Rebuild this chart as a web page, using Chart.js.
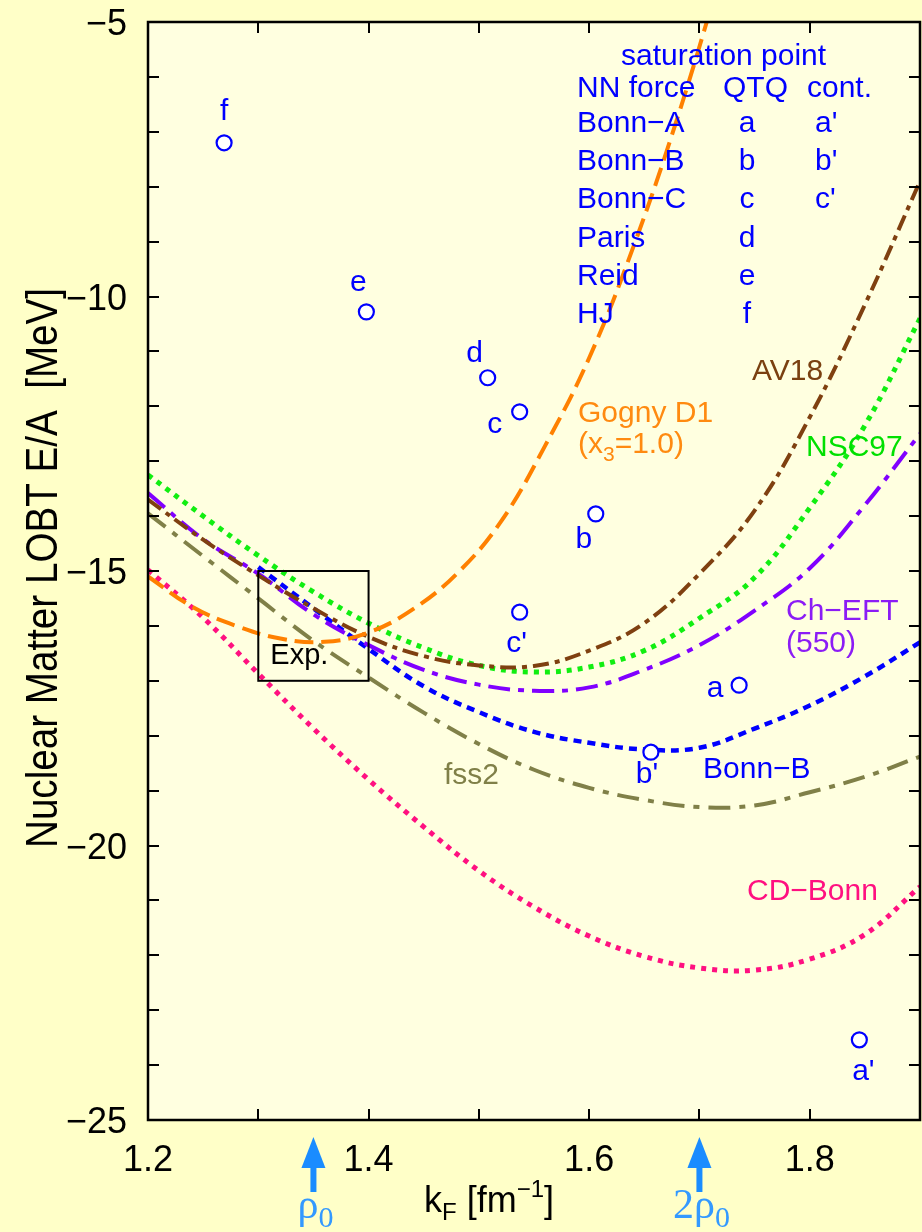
<!DOCTYPE html>
<html><head><meta charset="utf-8">
<script src="https://cdn.jsdelivr.net/npm/chart.js@4/dist/chart.umd.min.js"></script>
<style>html,body{margin:0;padding:0;background:#FFFFC8;}canvas{display:block;}</style>
</head><body>
<canvas id="c" width="922" height="1232"></canvas>
<script>
// ---- data ----
const kF = [1.20,1.25,1.30,1.35,1.40,1.45,1.50,1.55,1.60,1.65,1.70,1.75,1.80,1.85,1.90];
const av18  = [-13.70,-14.43,-15.08,-15.68,-16.20,-16.55,-16.72,-16.73,-16.45,-15.95,-15.05,-13.90,-12.20,-10.15,-7.90];
const nsc97 = [-13.25,-14.00,-14.72,-15.38,-15.95,-16.40,-16.72,-16.84,-16.75,-16.45,-15.86,-15.12,-13.85,-12.35,-10.40];
const chEFT = [-13.58,-14.42,-15.05,-15.79,-16.35,-16.80,-17.07,-17.18,-17.12,-16.80,-16.35,-15.72,-14.95,-13.80,-12.50];
const fss2  = [-13.95,-14.73,-15.50,-16.27,-16.94,-17.58,-18.15,-18.62,-18.95,-19.17,-19.30,-19.27,-19.03,-18.75,-18.38];
const cdBonn= [-14.98,-15.85,-16.87,-17.87,-18.80,-19.66,-20.46,-21.12,-21.65,-22.02,-22.23,-22.27,-22.07,-21.62,-20.75];
const bonnBK = [1.30,1.35,1.40,1.45,1.50,1.55,1.60,1.65,1.70,1.75,1.80,1.85,1.90];
const bonnB  = [-14.93,-15.68,-16.42,-17.10,-17.57,-17.93,-18.13,-18.25,-18.22,-17.87,-17.45,-16.92,-16.30];
const gognyK = [1.20,1.24,1.28,1.32,1.36,1.40,1.44,1.48,1.52,1.56,1.60,1.64,1.68,1.72];
const gognyE = [-15.10,-15.65,-16.00,-16.23,-16.29,-16.12,-15.70,-15.05,-14.10,-12.72,-11.12,-9.10,-6.75,-4.10];
const qtqNames = ['a','b','c','d','e','f'];
const qtqK = [1.736,1.606,1.537,1.508,1.398,1.269];
const qtqE = [-17.08,-13.96,-12.10,-11.48,-10.28,-7.20];
const contNames = ["a'","b'","c'"];
const contK = [1.845,1.656,1.537];
const contE = [-23.54,-18.30,-15.75];
const expK = [1.30,1.40];
const expE = [-15.0,-17.0];
const rhoK = [1.35,1.70];
const rhoLabels = ['ρ','2ρ'];
const xTickLabels = [1.2,1.4,1.6,1.8];
const yTickLabels = [-5,-10,-15,-20,-25];
const tableRows = [['Bonn−A','a',"a'"],['Bonn−B','b',"b'"],['Bonn−C','c',"c'"],['Paris','d',''],['Reid','e',''],['HJ','f','']];

// ---- styling (label offsets in px relative to the point) ----
const qtqOff = [[-24,12],[-12,34],[-25,21],[-13,-16],[-8,-21],[0,-23]];
const contOff = [[4,40],[-4,31],[-3,40]];

const SANS = '"Liberation Sans", Arial, Helvetica, sans-serif';
const SERIF = '"Liberation Serif", "DejaVu Serif", serif';

function pts(xs, ys){ return xs.map((x,i)=>({x:x,y:ys[i]})); }
function curve(label, xs, ys, color, dash, w){
  return {type:'line', label:label, data:pts(xs,ys), borderColor:color, borderWidth:w||4,
    borderDash:dash, borderCapStyle:'butt', pointRadius:0, tension:0.4, fill:false};
}

function txt(ctx, s, x, y, color, size, align, family){
  ctx.save();
  ctx.font = size + 'px ' + (family||SANS);
  ctx.fillStyle = color; ctx.textAlign = align||'left'; ctx.textBaseline = 'alphabetic';
  ctx.fillText(s, x, y);
  const w = ctx.measureText(s).width;
  ctx.restore();
  return w;
}

const decor = {
  id:'decor',
  beforeDraw(chart){
    const {ctx, chartArea:a} = chart;
    ctx.save();
    ctx.fillStyle = '#FFFFC8'; ctx.fillRect(0,0,chart.width,chart.height);
    ctx.fillStyle = '#FFFFE0'; ctx.fillRect(a.left,a.top,a.right-a.left,a.bottom-a.top);
    ctx.restore();
  },
  afterDatasetsDraw(chart){
    const {ctx, chartArea:a, scales:{x,y}} = chart;
    ctx.save();
    // ticks inside
    ctx.strokeStyle = '#000'; ctx.lineWidth = 2;
    ctx.beginPath();
    x.ticks.forEach(t=>{ const px = Math.round(x.getPixelForValue(t.value));
      if (px<=a.left+2 || px>=a.right-2) return;
      ctx.moveTo(px,a.bottom); ctx.lineTo(px,a.bottom-11);
      ctx.moveTo(px,a.top); ctx.lineTo(px,a.top+11); });
    y.ticks.forEach(t=>{ const py = Math.round(y.getPixelForValue(t.value));
      if (py<=a.top+2 || py>=a.bottom-2) return;
      ctx.moveTo(a.left,py); ctx.lineTo(a.left+11,py);
      ctx.moveTo(a.right,py); ctx.lineTo(a.right-11,py); });
    ctx.stroke();
    // frame
    ctx.lineWidth = 2.5;
    ctx.strokeRect(a.left,a.top,a.right-a.left,a.bottom-a.top);
    // tick labels from the scale ticks
    x.ticks.forEach(t=>{ const r = Math.round(t.value*10)/10;
      if (xTickLabels.some(v=>Math.abs(v-r)<1e-6)) txt(ctx, r.toFixed(1), x.getPixelForValue(t.value), 1171, '#000', 36, 'center'); });
    y.ticks.forEach(t=>{ const r = Math.round(t.value);
      if (yTickLabels.includes(r)) txt(ctx, '−'+Math.abs(r), 127, y.getPixelForValue(t.value)+13, '#000', 36, 'right'); });
    // Exp box
    const ex0 = x.getPixelForValue(expK[0]), ex1 = x.getPixelForValue(expK[1]);
    const ey0 = y.getPixelForValue(expE[0]), ey1 = y.getPixelForValue(expE[1]);
    ctx.lineWidth = 2;
    ctx.strokeRect(ex0,ey0,ex1-ex0,ey1-ey0);
    txt(ctx,'Exp.',ex0+12,ey1-17,'#000',29);

    // point labels
    const mq = chart.getDatasetMeta(0), mc = chart.getDatasetMeta(1);
    qtqNames.forEach((n,i)=>{ const p = mq.data[i]; txt(ctx,n,p.x+qtqOff[i][0],p.y+qtqOff[i][1],'#0000FF',30,'center'); });
    contNames.forEach((n,i)=>{ const p = mc.data[i]; txt(ctx,n,p.x+contOff[i][0],p.y+contOff[i][1],'#0000FF',30,'center'); });

    // table
    const B = '#0000FF';
    txt(ctx,'saturation point',621,65,B,30);
    txt(ctx,'NN force',577,97,B,30);
    txt(ctx,'QTQ',723,97,B,30);
    txt(ctx,'cont.',807,97,B,30);
    tableRows.forEach((r,i)=>{
      const by = 132 + i*38.2;
      txt(ctx,r[0],577,by,B,30);
      txt(ctx,r[1],747,by,B,30,'center');
      if (r[2]) txt(ctx,r[2],815,by,B,30);
    });

    // curve labels
    const OR = '#FF8A10';
    txt(ctx,'Gogny D1',578,422,OR,30);
    let w = txt(ctx,'(x',578,453,OR,30);
    let w2 = txt(ctx,'3',578+w,461,OR,21);
    txt(ctx,'=1.0)',578+w+w2,453,OR,30);
    txt(ctx,'AV18',752,380,'#7A4010',30);
    txt(ctx,'NSC97',806,456,'#00E000',30);
    txt(ctx,'Ch−EFT',786,620,'#8B1CF5',30);
    txt(ctx,'(550)',786,652,'#8B1CF5',30);
    txt(ctx,'Bonn−B',703,778,'#0000FF',30);
    txt(ctx,'fss2',444,784,'#808048',30);
    txt(ctx,'CD−Bonn',747,900,'#FF1080',30);
    ctx.restore();
  },
  afterDraw(chart){
    const {ctx, scales:{x}} = chart;
    ctx.save();
    // y title
    ctx.save();
    ctx.translate(57,568); ctx.rotate(-Math.PI/2);
    ctx.font = '45px ' + SANS;
    const s = 'Nuclear Matter LOBT E/A  [MeV]';
    const tw = ctx.measureText(s).width;
    ctx.scale(560/tw,1);
    ctx.fillStyle = '#000'; ctx.textAlign='center'; ctx.textBaseline='alphabetic';
    ctx.fillText(s,0,0);
    ctx.restore();
    // x title
    let xx = 424;
    xx += txt(ctx,'k',xx,1212,'#000',36);
    xx += txt(ctx,'F',xx,1220,'#000',24);
    xx += txt(ctx,' [fm',xx,1212,'#000',36);
    xx += txt(ctx,'−1',xx,1197,'#000',24);
    txt(ctx,']',xx,1212,'#000',36);
    // arrows
    const AC = '#1A8CFF';
    rhoK.forEach((k,i)=>{
      const px = x.getPixelForValue(k);
      ctx.fillStyle = AC;
      ctx.beginPath(); ctx.moveTo(px,1137); ctx.lineTo(px-12,1168); ctx.lineTo(px+12,1168); ctx.closePath(); ctx.fill();
      ctx.fillRect(px-3,1166,6,26);
      const lbl = rhoLabels[i];
      ctx.font = '42px ' + SERIF;
      const lw = ctx.measureText(lbl).width;
      ctx.font = '30px ' + SERIF;
      const sw = ctx.measureText('0').width;
      const left = px - (lw+sw)/2 + 2;
      txt(ctx,lbl,left,1218,'#3399FF',42,'left',SERIF);
      txt(ctx,'0',left+lw,1227,'#3399FF',30,'left',SERIF);
    });
    ctx.restore();
  }
};

new Chart(document.getElementById('c'), {
  data: {
    datasets: [
      {type:'scatter', label:'QTQ', data:pts(qtqK,qtqE), pointRadius:7.5, borderWidth:2.2, borderColor:'#0000FF', backgroundColor:'#FFFFFF'},
      {type:'scatter', label:'cont.', data:pts(contK,contE), pointRadius:7.5, borderWidth:2.2, borderColor:'#0000FF', backgroundColor:'#FFFFFF'},
      curve('Gogny D1', gognyK, gognyE, '#FF8000', [19,8], 4),
      curve('AV18', kF, av18, '#7F4010', [16,6,5,6], 4),
      curve('NSC97', kF, nsc97, '#11EE11', [5,6], 5),
      curve('Ch-EFT (550)', kF, chEFT, '#8000FF', [22,8,6,8], 4),
      curve('Bonn-B', bonnBK, bonnB, '#0000FF', [8,6], 4.5),
      curve('fss2', kF, fss2, '#808048', [22,9,6,9], 4),
      curve('CD-Bonn', kF, cdBonn, '#FF1080', [5,6], 5)
    ]
  },
  options: {
    responsive:false, animation:false, devicePixelRatio:1,
    layout:{autoPadding:false, padding:{left:0,right:2,top:22,bottom:0}},
    plugins:{legend:{display:false}, tooltip:{enabled:false}},
    scales:{
      x:{type:'linear', min:1.2, max:1.9,
        grid:{display:false, drawTicks:false}, border:{display:false},
        ticks:{display:false, stepSize:0.1, autoSkip:false, maxRotation:0},
        afterFit:(s)=>{ s.height = 112; }
      },
      y:{type:'linear', min:-25, max:-5,
        grid:{display:false, drawTicks:false}, border:{display:false},
        ticks:{display:false, stepSize:1, autoSkip:false},
        afterFit:(s)=>{ s.width = 148; }
      }
    }
  },
  plugins:[decor]
});
</script>
</body></html>
